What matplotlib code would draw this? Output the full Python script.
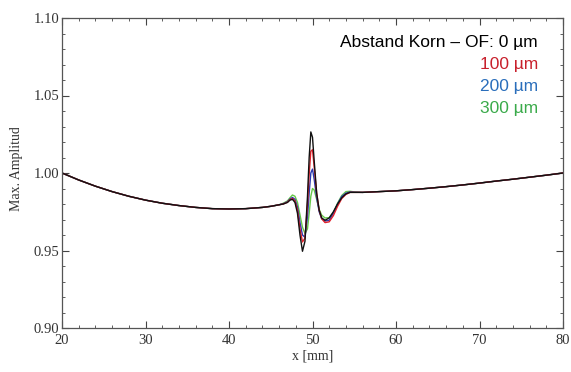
import numpy as np
import matplotlib
matplotlib.use("Agg")
import matplotlib.pyplot as plt
from matplotlib.ticker import MultipleLocator
from matplotlib.transforms import Bbox, TransformedBbox

# shared part of the curves (left and right of the disturbance)
x_left = [20, 22, 24, 26, 28, 30, 32, 34, 36, 38, 40, 42, 44, 45]
y_left = [1.000, 0.9955, 0.9915, 0.9880, 0.9850, 0.9825, 0.9805, 0.9790,
          0.9778, 0.9770, 0.9768, 0.9770, 0.9778, 0.9785]
x_right = [56, 58, 60, 62, 64, 66, 68, 70, 72, 74, 76, 78, 80]
y_right = [0.9875, 0.9880, 0.9885, 0.9893, 0.9902, 0.9912, 0.9923, 0.9935,
           0.9948, 0.9960, 0.9973, 0.9986, 1.0000]

# region around the grain (x in mm)
x_mid = [46.0, 46.5, 47.0, 47.3, 47.6, 47.9, 48.2, 48.5, 48.8, 49.1, 49.4,
         49.6, 49.8, 50.0, 50.2, 50.5, 50.8, 51.1, 51.5, 52.0, 52.5, 53.0,
         53.5, 54.0, 54.5, 55.0]
y_0 = [0.9795, 0.9800, 0.9810, 0.9825, 0.9830, 0.9810, 0.9740, 0.9600,
       0.9495, 0.9560, 0.9850, 1.0100, 1.0265, 1.0230, 1.0080, 0.9870,
       0.9760, 0.9710, 0.9695, 0.9710, 0.9750, 0.9800, 0.9840, 0.9865,
       0.9875, 0.9875]
y_100 = [0.9795, 0.9800, 0.9812, 0.9828, 0.9835, 0.9820, 0.9760, 0.9640,
         0.9555, 0.9580, 0.9800, 0.9990, 1.0140, 1.0150, 1.0040, 0.9870,
         0.9760, 0.9705, 0.9680, 0.9685, 0.9725, 0.9785, 0.9835, 0.9862,
         0.9875, 0.9875]
y_200 = [0.9795, 0.9802, 0.9815, 0.9832, 0.9842, 0.9830, 0.9780, 0.9680,
         0.9600, 0.9585, 0.9720, 0.9870, 1.0000, 1.0025, 0.9960, 0.9840,
         0.9750, 0.9705, 0.9690, 0.9695, 0.9740, 0.9800, 0.9848, 0.9870,
         0.9878, 0.9876]
y_300 = [0.9795, 0.9805, 0.9820, 0.9840, 0.9858, 0.9850, 0.9810, 0.9730,
         0.9650, 0.9610, 0.9640, 0.9740, 0.9850, 0.9900, 0.9890, 0.9830,
         0.9765, 0.9728, 0.9710, 0.9712, 0.9745, 0.9805, 0.9855, 0.9880,
         0.9882, 0.9878]

labels = ["Abstand Korn \u2013 OF: 0 \u00b5m", "100 \u00b5m", "200 \u00b5m", "300 \u00b5m"]
line_colors = ["#111111", "#e0202a", "#2838b0", "#66c847"]
text_colors = ["#000000", "#c8202c", "#2a6ebb", "#3aaa4a"]

fig = plt.figure(figsize=(5.71, 3.72), dpi=100)
ax = fig.add_axes([62/571, 44/372, 501/571, 310/372])

series = [y_0, y_100, y_200, y_300]
# draw the largest distance first so the black curve ends on top
for ys, c in list(zip(series, line_colors))[::-1]:
    xs = x_left + x_mid + x_right
    yy = y_left + ys + y_right
    ax.plot(xs, yy, color=c, lw=1.0)

ax.set_xlim(20, 80)
ax.set_ylim(0.90, 1.10)
ax.xaxis.set_major_locator(MultipleLocator(10))
ax.xaxis.set_minor_locator(MultipleLocator(2))
ax.yaxis.set_major_locator(MultipleLocator(0.05))
ax.yaxis.set_minor_locator(MultipleLocator(0.01))
ax.yaxis.set_major_formatter(matplotlib.ticker.FormatStrFormatter("%.2f"))
ax.tick_params(which="both", direction="in", top=True, right=True,
               color="#444444", labelsize=10.5, pad=2)
ax.tick_params(axis="x", which="major", pad=4)
ax.tick_params(which="major", length=5)
ax.tick_params(which="minor", length=2.5)
for s in ax.spines.values():
    s.set_color("#555555")
    s.set_linewidth(0.9)
for lab in ax.get_xticklabels() + ax.get_yticklabels():
    lab.set_family("Liberation Serif")
    lab.set_color("#333333")

ax.set_xlabel("x [mm]", family="Liberation Serif", fontsize=10, color="#333333", labelpad=2)

ylab = fig.text(17/571, 0.555, "Max. Amplitude", rotation=90, ha="center", va="center",
                family="Liberation Serif", fontsize=10, color="#333333")
ylab.set_clip_box(TransformedBbox(Bbox([[0, 0], [1, (372 - 128) / 372]]), fig.transFigure))
ylab.set_clip_on(True)

ys_txt = [43, 65, 87, 109]
for t, c, yp in zip(labels, text_colors, ys_txt):
    fig.text(538/571, 1 - yp/372, t, ha="right", va="center", color=c,
             family="Liberation Sans", fontsize=12.5)

fig.savefig("out.png", dpi=100)
